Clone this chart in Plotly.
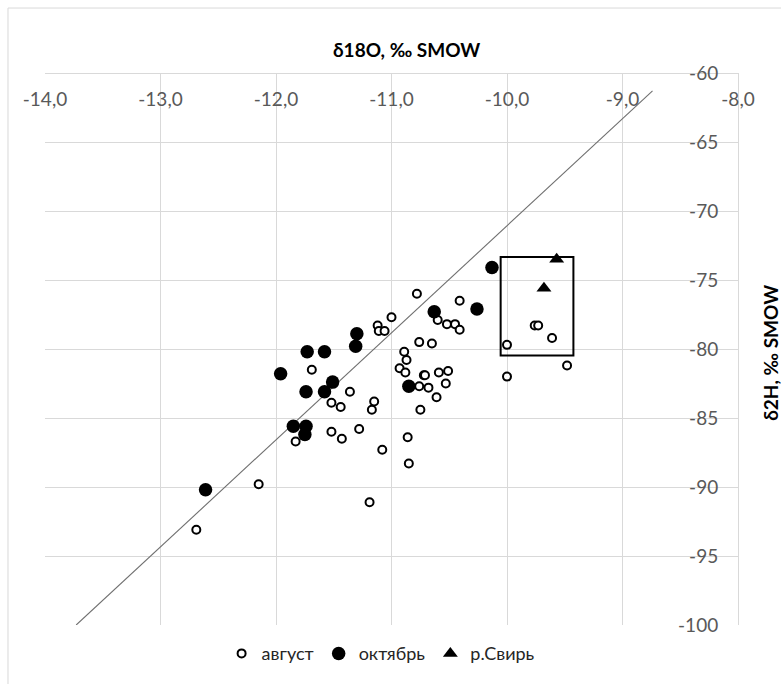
import plotly.graph_objects as go

# August samples (open circles): δ18O and δ2H, ‰ SMOW
aug_d18o = [-10.78, -10.41, -11.00, -11.12, -11.11, -11.06, -10.60, -10.52, -10.45, -10.41,
            -10.76, -10.65, -10.89, -10.87, -10.93, -10.88, -10.72, -10.71, -10.59, -10.51,
            -10.76, -10.68, -10.53, -10.61, -10.75, -11.69, -11.36, -11.52, -11.44, -11.15,
            -11.17, -11.52, -11.43, -11.28, -11.83, -11.08, -10.86, -10.85, -10.00, -9.76,
            -9.73, -9.61, -9.48, -10.00, -12.15, -12.69, -11.19]
aug_d2h = [-76.0, -76.5, -77.7, -78.3, -78.7, -78.7, -77.9, -78.2, -78.2, -78.6,
           -79.5, -79.6, -80.2, -80.8, -81.4, -81.7, -81.9, -81.9, -81.7, -81.6,
           -82.7, -82.8, -82.5, -83.5, -84.4, -81.5, -83.1, -83.9, -84.2, -83.8,
           -84.4, -86.0, -86.5, -85.8, -86.7, -87.3, -86.4, -88.3, -79.7, -78.3,
           -78.3, -79.2, -81.2, -82.0, -89.8, -93.1, -91.1]

# October samples (filled circles)
oct_d18o = [-10.13, -10.26, -10.63, -11.30, -11.31, -11.73, -11.58, -11.96,
            -11.51, -11.74, -11.58, -10.85, -11.85, -11.74, -11.75, -12.61]
oct_d2h = [-74.1, -77.1, -77.3, -78.9, -79.8, -80.2, -80.2, -81.8,
           -82.4, -83.1, -83.1, -82.7, -85.6, -85.6, -86.2, -90.2]

# Svir river samples (triangles)
svir_d18o = [-9.57, -9.68]
svir_d2h = [-73.5, -75.6]

# Meteoric water line end points
mwl_d18o = [-13.73, -8.74]
mwl_d2h = [-100.0, -61.3]

# Corners of the outlined group
box_d18o = [-10.055, -9.425]
box_d2h = [-80.47, -73.33]

x_ticks = [-14, -13, -12, -11, -10, -9, -8]
x_tick_labels = ["-14,0", "-13,0", "-12,0", "-11,0", "-10,0", "-9,0", "-8,0"]
y_ticks = [-100, -95, -90, -85, -80, -75, -70, -65, -60]
y_tick_labels = ["-100", "-95", "-90", "-85", "-80", "-75", "-70", "-65", "-60"]

FONT = "Lato, 'Open Sans', sans-serif"
GRID = "#d9d9d9"

fig = go.Figure()

fig.add_trace(go.Scatter(
    x=mwl_d18o, y=mwl_d2h, mode="lines",
    line=dict(color="#6f6f6f", width=1.1),
    showlegend=False, hoverinfo="skip",
))

fig.add_trace(go.Scatter(
    x=aug_d18o, y=aug_d2h, mode="markers", name="август",
    marker=dict(symbol="circle", size=8, color="white",
                line=dict(color="black", width=2)),
))

fig.add_trace(go.Scatter(
    x=oct_d18o, y=oct_d2h, mode="markers", name="октябрь",
    marker=dict(symbol="circle", size=13.5, color="black",
                line=dict(color="black", width=0)),
))

fig.add_trace(go.Scatter(
    x=svir_d18o, y=svir_d2h, mode="markers", name="р.Свирь",
    marker=dict(symbol="triangle-up", size=13, color="black",
                line=dict(color="black", width=0)),
))

fig.add_shape(
    type="rect", xref="x", yref="y",
    x0=box_d18o[0], x1=box_d18o[1], y0=box_d2h[0], y1=box_d2h[1],
    line=dict(color="black", width=2), fillcolor="rgba(0,0,0,0)", layer="above",
)

# outer chart frame
fig.add_shape(
    type="rect", xref="paper", yref="paper",
    x0=-0.0534, x1=1.08, y0=-0.13, y1=1.1177,
    line=dict(color="#d9d9d9", width=1), fillcolor="rgba(0,0,0,0)", layer="below",
)

fig.update_layout(
    width=781, height=684,
    margin=dict(l=45, r=42.7, t=73.3, b=55.7),
    paper_bgcolor="white", plot_bgcolor="white",
    font=dict(family=FONT, size=19, color="#595959"),
    showlegend=True,
    legend=dict(
        orientation="h", x=0.485, xanchor="center", y=-0.052, yanchor="middle",
        font=dict(family=FONT, size=18, color="#262626"),
        itemwidth=30, tracegroupgap=0, bgcolor="rgba(0,0,0,0)",
    ),
    xaxis=dict(
        range=[-14, -8], tickmode="array", tickvals=x_ticks, ticktext=x_tick_labels,
        side="bottom", anchor="free", position=1,
        showgrid=True, gridcolor=GRID, gridwidth=1,
        showline=True, linecolor=GRID, linewidth=1, mirror=True,
        zeroline=False, ticks="", ticklabelstandoff=9,
        tickfont=dict(family=FONT, size=19, color="#595959"),
    ),
    yaxis=dict(
        range=[-100, -60], tickmode="array", tickvals=y_ticks, ticktext=y_tick_labels,
        side="left", anchor="free", position=1,
        showgrid=True, gridcolor=GRID, gridwidth=1,
        showline=True, linecolor=GRID, linewidth=1, mirror=True,
        zeroline=False, ticks="", ticklabelstandoff=16,
        tickfont=dict(family=FONT, size=19, color="#595959"),
    ),
    annotations=[
        dict(text="<b>δ18O, ‰ SMOW</b>", xref="paper", yref="paper",
             x=0.5217, y=1.042, xanchor="center", yanchor="middle", showarrow=False,
             font=dict(family=FONT, size=19, color="black")),
        dict(text="<b>δ2H, ‰ SMOW</b>", xref="paper", yref="paper",
             x=1.0457, y=0.4925, xanchor="center", yanchor="middle", showarrow=False,
             textangle=-90, font=dict(family=FONT, size=19, color="black")),
    ],
)

fig.write_html("out.html")
